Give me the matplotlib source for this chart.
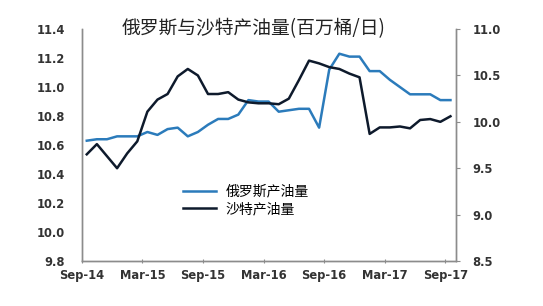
import matplotlib
matplotlib.use("Agg")
import matplotlib.pyplot as plt
import numpy as np

plt.rcParams['font.family'] = ['Noto Sans CJK SC', 'DejaVu Sans']

# monthly points, Sep-14 .. Sep-17 (placed mid-month)
russia = [10.63, 10.64, 10.64, 10.66, 10.66, 10.66, 10.69, 10.67, 10.71, 10.72,
          10.66, 10.69, 10.74, 10.78, 10.78, 10.81, 10.91, 10.90, 10.90, 10.83,
          10.84, 10.85, 10.85, 10.72, 11.12, 11.23, 11.21, 11.21, 11.11, 11.11,
          11.05, 11.00, 10.95, 10.95, 10.95, 10.91, 10.91]
saudi = [9.65, 9.76, 9.63, 9.50, 9.66, 9.79, 10.11, 10.24, 10.30, 10.49,
         10.57, 10.50, 10.30, 10.30, 10.32, 10.24, 10.21, 10.20, 10.20, 10.19,
         10.25, 10.45, 10.66, 10.63, 10.59, 10.57, 10.52, 10.48, 9.87, 9.94,
         9.94, 9.95, 9.93, 10.02, 10.03, 10.00, 10.06]
tick_labels = ['Sep-14', 'Mar-15', 'Sep-15', 'Mar-16', 'Sep-16', 'Mar-17', 'Sep-17']

x = np.arange(len(russia)) + 0.5

fig = plt.figure(figsize=(5.43, 3.06), dpi=100)
ax = fig.add_axes([0.1505, 0.147, 0.6893, 0.758])
ax2 = ax.twinx()

l1, = ax.plot(x, russia, color='#2b7bbb', lw=1.8, label='俄罗斯产油量')
l2, = ax2.plot(x, saudi, color='#0e1a2c', lw=1.8, label='沙特产油量')

ax.set_xlim(0, 37.05)
ax.set_ylim(9.8, 11.4)
ax2.set_ylim(8.5, 11.0)
ax.set_xticks(np.arange(0, 37, 6))
ax.set_xticklabels(tick_labels)
ax.set_yticks(np.arange(9.8, 11.41, 0.2))
ax.set_yticklabels(['%.1f' % v for v in np.arange(9.8, 11.41, 0.2)])
ax2.set_yticks(np.arange(8.5, 11.01, 0.5))
ax2.set_yticklabels(['%.1f' % v for v in np.arange(8.5, 11.01, 0.5)])

for a in (ax, ax2):
    a.spines['top'].set_visible(False)
    for s in ('left', 'right', 'bottom'):
        a.spines[s].set_color('#8c8c8c')
        a.spines[s].set_linewidth(1.0)
ax.tick_params(axis='y', length=0, pad=12)
ax.tick_params(axis='x', length=3, direction='inout', color='#8c8c8c', pad=4)
ax2.tick_params(axis='y', length=3, direction='out', color='#8c8c8c', pad=9)
for lab in ax.get_xticklabels() + ax.get_yticklabels() + ax2.get_yticklabels():
    lab.set_fontsize(8.3)
    lab.set_fontweight('bold')
    lab.set_color('#333333')
    lab.set_family('DejaVu Sans')

fig.text(0.467, 0.905, '俄罗斯与沙特产油量(百万桶/日)', ha='center', va='center',
         fontsize=13.5, color='#222222')

ax.legend(handles=[l1, l2], loc='upper left', bbox_to_anchor=(0.27, 0.33),
          frameon=False, fontsize=10, handlelength=2.4, labelspacing=0.25,
          handletextpad=0.7, borderpad=0, borderaxespad=0)

fig.savefig('out.png', dpi=100)
